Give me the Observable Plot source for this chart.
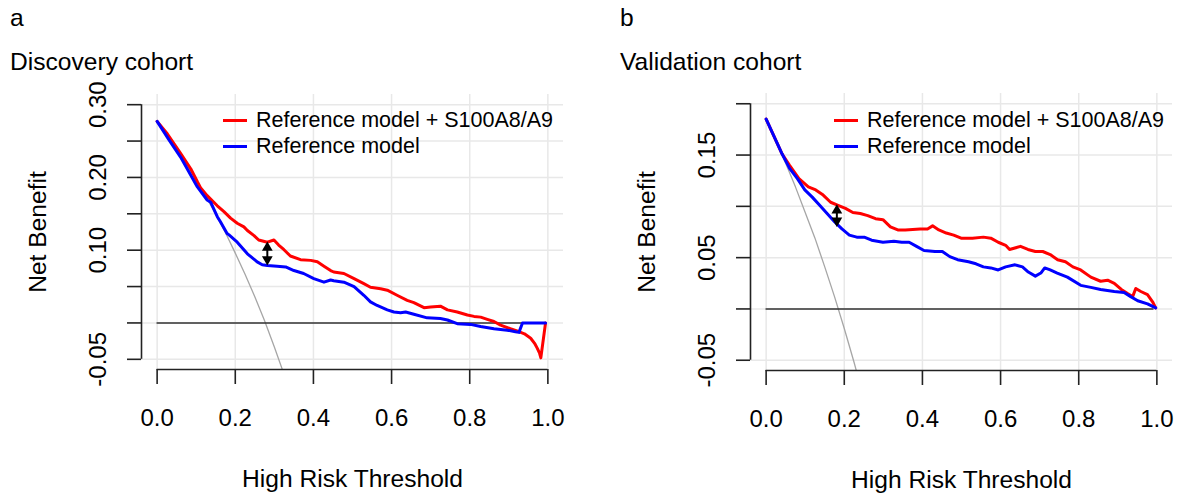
<!DOCTYPE html>
<html>
<head>
<meta charset="utf-8">
<script src="https://cdn.jsdelivr.net/npm/d3@7"></script>
<script src="https://cdn.jsdelivr.net/npm/@observablehq/plot@0.6"></script>
<style>
  body { margin: 0; background: #fff; }
  #wrap { position: relative; width: 1184px; height: 495px; overflow: hidden; font-family: "Liberation Sans", Arial, sans-serif; color: #000; }
  .panel { position: absolute; top: 0; }
  .t { position: absolute; font-size: 24.6px; line-height: 24px; white-space: nowrap; }
  .leg { position: absolute; height: 22px; font-size: 21.5px; line-height: 22px; white-space: nowrap; display: flex; align-items: center; }
  .leg .sw { display: inline-block; width: 24px; height: 3px; margin-right: 9px; }
</style>
</head>
<body>
<div id="wrap">
  <div id="pa" class="panel" style="left:0px"></div>
  <div id="pb" class="panel" style="left:600px"></div>
  <div class="t" style="left:10px;top:6px">a</div>
  <div class="t" style="left:10px;top:50px">Discovery cohort</div>
  <div class="t" style="left:620px;top:6px">b</div>
  <div class="t" style="left:620px;top:50px">Validation cohort</div>
  <div class="leg" style="left:223px;top:109px"><span class="sw" style="background:#ff0000"></span>Reference model + S100A8/A9</div>
  <div class="leg" style="left:223px;top:135px"><span class="sw" style="background:#0000ff"></span>Reference model</div>
  <div class="leg" style="left:834px;top:109px"><span class="sw" style="background:#ff0000"></span>Reference model + S100A8/A9</div>
  <div class="leg" style="left:834px;top:135px"><span class="sw" style="background:#0000ff"></span>Reference model</div>
</div>
<script>
// ---------- shared ----------
const xTicks = [0, 0.2, 0.4, 0.6, 0.8, 1.0];
const noneT = [0, 0.99];
const noneNB = [0, 0];

// ---------- panel a: Discovery cohort ----------
const aYTicks = [-0.05, 0, 0.05, 0.10, 0.15, 0.20, 0.25, 0.30];
const aYLabels = [-0.05, 0.10, 0.20, 0.30];
const aPlusT = [0, 0.026, 0.060, 0.086, 0.103, 0.111, 0.128, 0.154, 0.171, 0.188, 0.205, 0.222, 0.231, 0.248, 0.260, 0.282, 0.299, 0.311, 0.324, 0.341, 0.367, 0.393, 0.410, 0.427, 0.444, 0.452, 0.478, 0.504, 0.529, 0.546, 0.572, 0.589, 0.614, 0.640, 0.657, 0.683, 0.700, 0.725, 0.743, 0.768, 0.794, 0.811, 0.828, 0.845, 0.862, 0.879, 0.904, 0.921, 0.940, 0.956, 0.966, 0.973, 0.979, 0.982, 0.994];
const aPlusNB = [0.277, 0.260, 0.233, 0.212, 0.194, 0.186, 0.175, 0.161, 0.153, 0.144, 0.137, 0.132, 0.127, 0.120, 0.114, 0.111, 0.114, 0.107, 0.101, 0.092, 0.087, 0.086, 0.084, 0.078, 0.072, 0.070, 0.068, 0.061, 0.054, 0.049, 0.047, 0.045, 0.038, 0.031, 0.028, 0.021, 0.022, 0.023, 0.018, 0.015, 0.011, 0.009, 0.008, 0.005, 0.002, -0.003, -0.008, -0.011, -0.015, -0.021, -0.028, -0.035, -0.042, -0.048, 0.000];
const aRefT = [0, 0.030, 0.060, 0.103, 0.128, 0.137, 0.154, 0.162, 0.179, 0.184, 0.205, 0.231, 0.256, 0.269, 0.282, 0.307, 0.329, 0.350, 0.375, 0.401, 0.427, 0.444, 0.452, 0.478, 0.504, 0.529, 0.546, 0.563, 0.589, 0.606, 0.623, 0.636, 0.657, 0.691, 0.725, 0.743, 0.768, 0.802, 0.828, 0.862, 0.896, 0.917, 0.926, 0.935, 0.994];
const aRefNB = [0.277, 0.252, 0.228, 0.187, 0.169, 0.166, 0.146, 0.139, 0.123, 0.121, 0.111, 0.095, 0.084, 0.080, 0.079, 0.078, 0.077, 0.072, 0.068, 0.061, 0.056, 0.059, 0.058, 0.056, 0.050, 0.038, 0.029, 0.024, 0.018, 0.015, 0.014, 0.015, 0.012, 0.007, 0.006, 0.004, -0.001, -0.002, -0.005, -0.008, -0.010, -0.012, -0.013, 0.000, 0.000];
const aAllT = [0, 0.025, 0.05, 0.075, 0.10, 0.125, 0.15, 0.175, 0.20, 0.225, 0.25, 0.275, 0.30, 0.325, 0.35];
const aAllNB = [0.277, 0.258, 0.239, 0.218, 0.197, 0.174, 0.149, 0.124, 0.096, 0.067, 0.036, 0.003, -0.033, -0.071, -0.112];
const aArrowT = [0.282];
const aArrowNB = [0.112, 0.079];

// ---------- panel b: Validation cohort ----------
const bYTicks = [-0.05, 0, 0.05, 0.10, 0.15, 0.20];
const bYLabels = [-0.05, 0.05, 0.15];
const bPlusT = [0, 0.041, 0.060, 0.084, 0.108, 0.127, 0.146, 0.165, 0.184, 0.203, 0.222, 0.241, 0.260, 0.280, 0.299, 0.318, 0.337, 0.356, 0.394, 0.413, 0.426, 0.442, 0.461, 0.480, 0.499, 0.528, 0.556, 0.575, 0.594, 0.613, 0.623, 0.651, 0.670, 0.689, 0.708, 0.727, 0.746, 0.766, 0.785, 0.805, 0.831, 0.856, 0.874, 0.891, 0.909, 0.925, 0.938, 0.946, 0.959, 0.976, 0.989, 0.997];
const bPlusNB = [0.185, 0.151, 0.140, 0.127, 0.119, 0.116, 0.111, 0.104, 0.101, 0.098, 0.094, 0.093, 0.091, 0.088, 0.087, 0.080, 0.077, 0.077, 0.078, 0.078, 0.081, 0.077, 0.074, 0.072, 0.069, 0.069, 0.070, 0.069, 0.065, 0.062, 0.058, 0.061, 0.058, 0.056, 0.056, 0.053, 0.048, 0.046, 0.041, 0.038, 0.031, 0.027, 0.028, 0.025, 0.019, 0.015, 0.012, 0.020, 0.017, 0.014, 0.007, 0.001];
const bRefT = [0, 0.041, 0.060, 0.080, 0.099, 0.118, 0.137, 0.156, 0.175, 0.194, 0.213, 0.232, 0.251, 0.270, 0.299, 0.327, 0.347, 0.366, 0.385, 0.404, 0.432, 0.451, 0.470, 0.490, 0.518, 0.537, 0.556, 0.575, 0.594, 0.613, 0.637, 0.656, 0.671, 0.689, 0.703, 0.713, 0.727, 0.745, 0.771, 0.805, 0.831, 0.856, 0.891, 0.916, 0.933, 0.951, 0.976, 0.997];
const bRefNB = [0.185, 0.151, 0.137, 0.127, 0.116, 0.109, 0.101, 0.093, 0.085, 0.078, 0.072, 0.070, 0.070, 0.067, 0.065, 0.066, 0.065, 0.065, 0.061, 0.057, 0.056, 0.056, 0.051, 0.048, 0.046, 0.044, 0.041, 0.040, 0.038, 0.041, 0.043, 0.041, 0.036, 0.032, 0.035, 0.040, 0.038, 0.035, 0.031, 0.023, 0.021, 0.019, 0.017, 0.016, 0.012, 0.008, 0.005, 0.001];
const bAllT = [0, 0.025, 0.05, 0.075, 0.10, 0.125, 0.15, 0.175, 0.20, 0.225, 0.25];
const bAllNB = [0.185, 0.164, 0.142, 0.119, 0.094, 0.069, 0.041, 0.012, -0.019, -0.052, -0.087];
const bArrowT = [0.181];
const bArrowNB = [0.102, 0.080];

const seriesNames = ["Reference model + S100A8/A9", "Reference model"];
const xLabel = "High Risk Threshold";
const yLabel = "Net Benefit";

const zip = (T, V) => T.map((t, i) => ({t, v: V[i]}));

function panel(cfg) {
  const x0 = -0.04;
  const axisColor = "#222";
  const grid = "#e8e8e8";
  return Plot.plot({
    width: cfg.width,
    height: 495,
    marginLeft: cfg.ml, marginRight: cfg.mr, marginTop: cfg.mt, marginBottom: cfg.mb,
    x: {domain: [x0, 1.04], axis: null},
    y: {domain: cfg.yDomain, axis: null},
    style: {fontFamily: '"Liberation Sans", Arial, sans-serif', background: "white", color: "#000", overflow: "visible"},
    marks: [
      Plot.ruleX(xTicks, {stroke: grid, strokeWidth: 1.5}),
      Plot.ruleY(cfg.yTicks, {stroke: grid, strokeWidth: 1.5}),
      Plot.line(zip(cfg.allT, cfg.allNB), {x: "t", y: "v", stroke: "#a6a6a6", strokeWidth: 1.3, clip: true}),
      Plot.line(zip(noneT, noneNB), {x: "t", y: "v", stroke: "#333", strokeWidth: 1.6}),
      Plot.line(zip(cfg.plusT, cfg.plusNB), {x: "t", y: "v", stroke: "#ff0000", strokeWidth: 3, strokeLinejoin: "round"}),
      Plot.line(zip(cfg.refT, cfg.refNB), {x: "t", y: "v", stroke: "#0000ff", strokeWidth: 3, strokeLinejoin: "round"}),
      // arrow
      Plot.ruleX(cfg.arrowT, {y1: cfg.arrowNB[0], y2: cfg.arrowNB[1], stroke: "#000", strokeWidth: 2, insetTop: 5, insetBottom: 5}),
      Plot.dot(cfg.arrowT, {x: d => d, y: cfg.arrowNB[0], symbol: "triangle", r: 4, fill: "#000", stroke: null, dy: 6.2}),
      Plot.dot(cfg.arrowT, {x: d => d, y: cfg.arrowNB[1], symbol: "triangle", r: 4, fill: "#000", stroke: null, rotate: 180, dy: -6.2}),
      // axes
      Plot.ruleX([x0], {y1: cfg.yTicks[0], y2: cfg.yTicks[cfg.yTicks.length - 1], stroke: axisColor, strokeWidth: 1.6}),
      Plot.ruleY([cfg.yDomain[0]], {x1: xTicks[0], x2: xTicks[xTicks.length - 1], stroke: axisColor, strokeWidth: 1.6}),
      Plot.axisY({ticks: cfg.yTicks, tickSize: 14, tickFormat: () => "", label: null, anchor: "left", stroke: axisColor, strokeWidth: 1.6}),
      Plot.axisX({ticks: xTicks, tickSize: 15, tickFormat: () => "", label: null, anchor: "bottom", stroke: axisColor, strokeWidth: 1.6}),
      Plot.text(cfg.yLabels, {x: x0, y: d => d, text: d => d.toFixed(2), rotate: -90, dx: -36, lineAnchor: "bottom", textAnchor: "middle", fontSize: 24, fill: "#000"}),
      Plot.text(xTicks, {x: d => d, y: cfg.yDomain[0], text: d => d.toFixed(1), dy: 56, lineAnchor: "bottom", textAnchor: "middle", fontSize: 24, fill: "#000"}),
      Plot.text([yLabel], {frameAnchor: "left", text: d => d, rotate: -90, dx: -96, lineAnchor: "bottom", textAnchor: "middle", fontSize: 24.6, fill: "#000"}),
      Plot.text([xLabel], {frameAnchor: "bottom", text: d => d, dy: 117, lineAnchor: "bottom", textAnchor: "middle", fontSize: 24.6, fill: "#000"})
    ]
  });
}

document.getElementById("pa").appendChild(panel({
  width: 600, ml: 141, mr: 37, mt: 94, mb: 126, yDomain: [-0.064, 0.314],
  yTicks: aYTicks, yLabels: aYLabels,
  plusT: aPlusT, plusNB: aPlusNB, refT: aRefT, refNB: aRefNB,
  allT: aAllT, allNB: aAllNB, arrowT: aArrowT, arrowNB: aArrowNB
}));
document.getElementById("pb").appendChild(panel({
  width: 584, ml: 150, mr: 12, mt: 93, mb: 125, yDomain: [-0.06, 0.21],
  yTicks: bYTicks, yLabels: bYLabels,
  plusT: bPlusT, plusNB: bPlusNB, refT: bRefT, refNB: bRefNB,
  allT: bAllT, allNB: bAllNB, arrowT: bArrowT, arrowNB: bArrowNB
}));
</script>
</body>
</html>
